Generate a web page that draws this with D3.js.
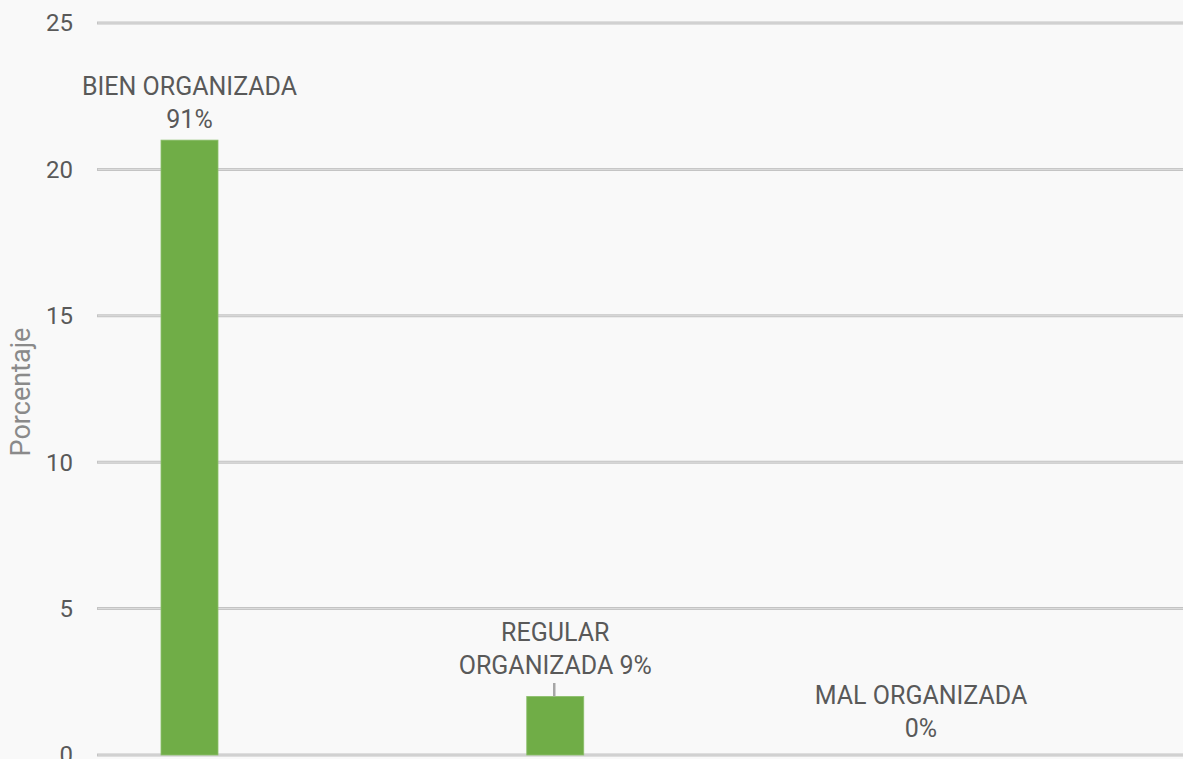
<!DOCTYPE html>
<html>
<head>
<meta charset="utf-8">
<script src="https://cdn.jsdelivr.net/npm/d3@7"></script>
<style>
  body { margin: 0; background: #f9f9f9; }
  svg { display: block; font-family: Roboto, "Noto Sans", sans-serif; }
</style>
</head>
<body>
<div id="chart"></div>
<script>
// data
var categories = ["BIEN ORGANIZADA", "REGULAR ORGANIZADA", "MAL ORGANIZADA"];
var values = [21, 2, 0];
var labelLines = [["BIEN ORGANIZADA", "91%"], ["REGULAR", "ORGANIZADA 9%"], ["MAL ORGANIZADA", "0%"]];
var yTicks = [0, 5, 10, 15, 20, 25];

var width = 1183, height = 759;
var plotLeft = 97, plotRight = 1183, plotTop = 23, plotBottom = 755;
var barWidth = 57;

var svg = d3.select("#chart").append("svg")
    .attr("width", width)
    .attr("height", height);

svg.append("rect").attr("width", width).attr("height", height).attr("fill", "#f9f9f9");

var y = d3.scaleLinear().domain([0, 25]).range([plotBottom, plotTop]);
var x = d3.scalePoint().domain(categories).range([189.5, 921]);

// gridlines (grey edge + lighter core)
var grid = svg.append("g");
grid.selectAll("line.edge")
  .data(yTicks)
  .enter().append("line")
    .attr("class", "edge")
    .attr("x1", plotLeft).attr("x2", plotRight)
    .attr("y1", d => y(d)).attr("y2", d => y(d))
    .attr("stroke", "#c4c4c4")
    .attr("stroke-width", 3);
grid.selectAll("line.core")
  .data(yTicks)
  .enter().append("line")
    .attr("class", "core")
    .attr("x1", plotLeft + 1).attr("x2", plotRight)
    .attr("y1", d => y(d)).attr("y2", d => y(d))
    .attr("stroke", "#dedede")
    .attr("stroke-width", 1);

// y tick labels
svg.append("g").selectAll("text")
  .data(yTicks)
  .enter().append("text")
    .attr("x", 73)
    .attr("y", d => y(d))
    .attr("dy", "0.35em")
    .attr("text-anchor", "end")
    .attr("fill", "#595959")
    .style("font-size", "24px")
    .text(d => d);

// axis title
svg.append("text")
  .attr("transform", "translate(30,392) rotate(-90)")
  .attr("text-anchor", "middle")
  .attr("fill", "#8a8a8a")
  .style("font-size", "27px")
  .text("Porcentaje");

// bars
svg.append("g").selectAll("rect")
  .data(values)
  .enter().append("rect")
    .attr("x", (d, i) => x(categories[i]) - barWidth / 2)
    .attr("width", barWidth)
    .attr("y", d => y(d))
    .attr("height", d => y(0) - y(d))
    .attr("fill", "#70ad47")
    .attr("stroke", "#8cbf6c")
    .attr("stroke-width", 0.8);

// data labels
var lineH = 33;
var labelBase = [86, 632, 695]; // centre of first label line
var lbl = svg.append("g").selectAll("text")
  .data(labelLines)
  .enter().append("text")
    .attr("text-anchor", "middle")
    .attr("fill", "#595959")
    .style("font-size", "25px");
lbl.each(function(lines, i) {
  var t = d3.select(this);
  lines.forEach(function(s, k) {
    t.append("tspan")
      .attr("x", x(categories[i]))
      .attr("y", labelBase[i] + k * lineH)
      .attr("dy", "0.35em")
      .text(s);
  });
});

// leader line for the small bar
svg.append("line")
  .attr("x1", x(categories[1]) - 1).attr("x2", x(categories[1]) - 1)
  .attr("y1", 683).attr("y2", y(values[1]))
  .attr("stroke", "#a6a6a6")
  .attr("stroke-width", 2.5);
</script>
</body>
</html>
